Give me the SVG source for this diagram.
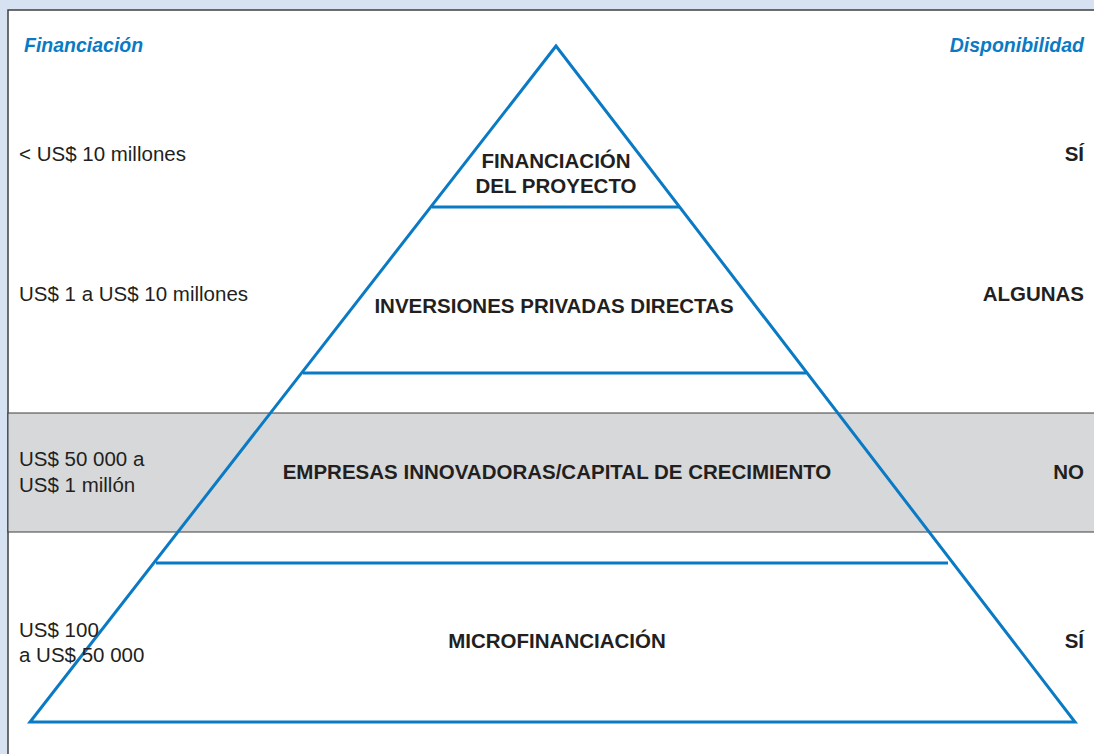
<svg xmlns="http://www.w3.org/2000/svg" width="1094" height="754" viewBox="0 0 1094 754">
<style>
.lbl{font-family:"Liberation Sans",Arial,sans-serif;font-size:20.5px;fill:#231f20}
.b{font-weight:bold}
.hd{font-family:"Liberation Sans",Arial,sans-serif;font-size:19.5px;font-weight:bold;font-style:italic;fill:#0a7ac4}
.blue{stroke:#0a7ac4;stroke-width:3;fill:none}
</style>
<rect x="0" y="0" width="1094" height="754" fill="#d6e2f2"/>
<rect id="panel" x="8" y="10" width="1100" height="760" fill="#ffffff" stroke="#3f3f3f" stroke-width="1.5"/>
<g id="band">
<rect x="8" y="413" width="1090" height="119" fill="#d7d8da" stroke="#3f3f3f" stroke-width="1"/>
</g>
<g id="connectors">
<polygon class="blue" points="556,46 30,722 1075,722" stroke-linejoin="miter"/>
<line class="blue" x1="432" y1="207" x2="679" y2="207"/>
<line class="blue" x1="303" y1="373" x2="806" y2="373"/>
<line class="blue" x1="156" y1="563" x2="948" y2="563"/>
</g>
<g id="headers">
<text class="hd" x="24" y="52">Financiación</text>
<text class="hd" x="1084" y="52" text-anchor="end">Disponibilidad</text>
</g>
<g id="tier1">
<text class="lbl" x="19" y="161">&lt; US$ 10 millones</text>
<text class="lbl b" x="556" y="168" text-anchor="middle">FINANCIACIÓN</text>
<text class="lbl b" x="556" y="193" text-anchor="middle">DEL PROYECTO</text>
<text class="lbl b" x="1084" y="161" text-anchor="end">SÍ</text>
</g>
<g id="tier2">
<text class="lbl" x="19" y="301">US$ 1 a US$ 10 millones</text>
<text class="lbl b" x="554" y="313" text-anchor="middle">INVERSIONES PRIVADAS DIRECTAS</text>
<text class="lbl b" x="1084" y="301" text-anchor="end">ALGUNAS</text>
</g>
<g id="tier3">
<text class="lbl" x="19" y="466">US$ 50 000 a</text>
<text class="lbl" x="19" y="492">US$ 1 millón</text>
<text class="lbl b" x="557" y="479" text-anchor="middle">EMPRESAS INNOVADORAS/CAPITAL DE CRECIMIENTO</text>
<text class="lbl b" x="1084" y="479" text-anchor="end">NO</text>
</g>
<g id="tier4">
<text class="lbl" x="19" y="637">US$ 100</text>
<text class="lbl" x="19" y="662">a US$ 50 000</text>
<text class="lbl b" x="557" y="648" text-anchor="middle">MICROFINANCIACIÓN</text>
<text class="lbl b" x="1084" y="648" text-anchor="end">SÍ</text>
</g>
</svg>
